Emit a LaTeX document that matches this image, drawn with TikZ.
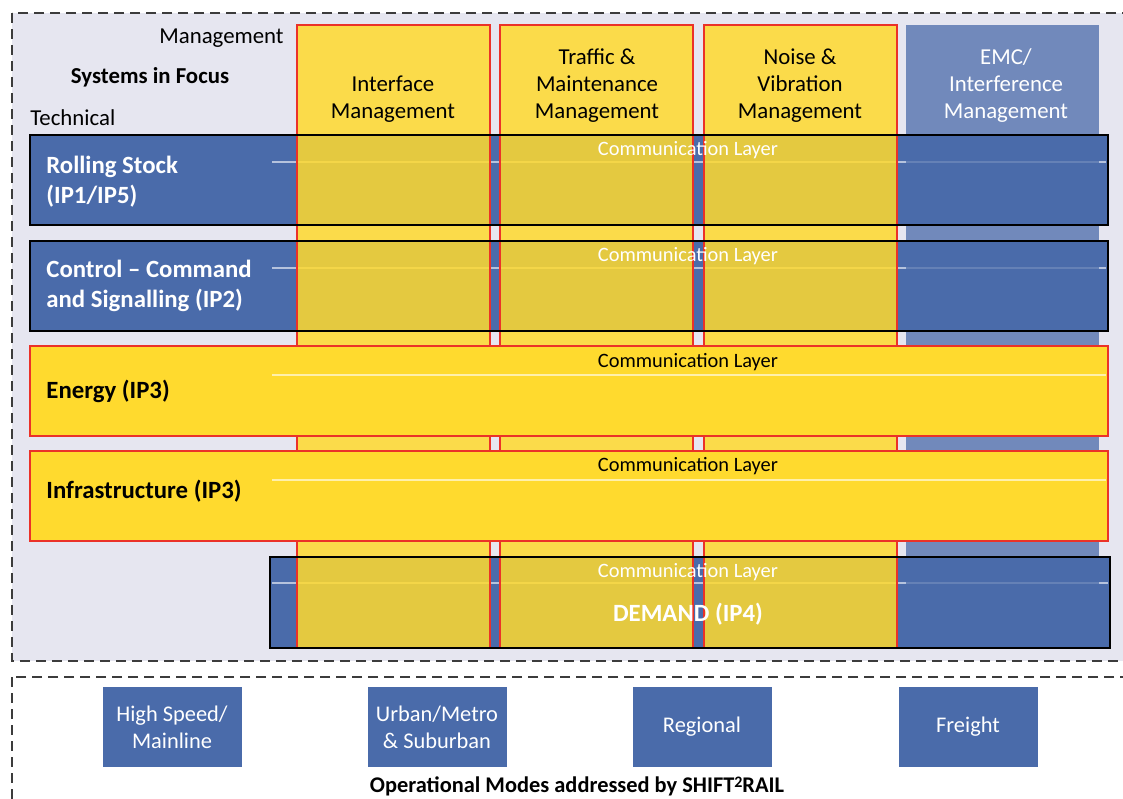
\documentclass[tikz,border=0pt]{standalone}
\usepackage{fontspec}
\setmainfont{Carlito}
\usetikzlibrary{positioning}
\definecolor{bglav}{RGB}{230,230,240}
\definecolor{colyellow}{RGB}{255,218,46}
\definecolor{rowblue}{RGB}{74,107,170}
\definecolor{edgered}{RGB}{235,50,40}
\definecolor{framegray}{RGB}{60,60,60}
\tikzstyle{frame} = [
    draw=framegray,
    line width=1pt,
    dash pattern=on 5pt off 3pt
]
\tikzstyle{col_box} = [
    draw=edgered,
    fill=colyellow,
    fill opacity=0.85,
    line width=0.8pt
]
\tikzstyle{emc_box} = [
    fill=rowblue,
    fill opacity=0.75
]
\tikzstyle{row_edge} = [
    draw=black,
    line width=0.8pt
]
\tikzstyle{yellow_row} = [
    draw=edgered,
    fill=colyellow,
    line width=0.8pt
]
\tikzstyle{comm_line} = [
    draw=white,
    draw opacity=0.6,
    line width=0.6pt
]
\tikzstyle{head_text} = [
    font=\fontsize{11.4}{13.5}\selectfont,
    align=center,
    inner sep=0pt
]
\tikzstyle{comm_text} = [
    font=\fontsize{10.2}{12}\selectfont,
    inner sep=0pt
]
\tikzstyle{row_text} = [
    font=\fontsize{12.4}{15}\selectfont\bfseries,
    align=left,
    anchor=west,
    inner sep=0pt
]
\tikzstyle{mode_box} = [
    fill=rowblue,
    text=white,
    font=\fontsize{11.2}{13.5}\selectfont,
    align=center,
    inner sep=0pt,
    minimum width=69.5pt,
    minimum height=40pt
]

\begin{document}
\begin{tikzpicture}[x=0.5pt, y=-0.5pt]
\clip (0,0) rectangle (1123,798);
% frames
\draw[frame, fill=bglav] (12,13) rectangle (1140,661);
\draw[frame, fill=white] (12,677) rectangle (1140,820);
% blue rows, under the columns
\foreach \ya in {135, 241} {
    \fill[rowblue] (30,\ya) rectangle (1108,{\ya+90});
    \draw[comm_line] (272,{\ya+27}) -- (1106,{\ya+27});
}
\fill[rowblue] (270,557) rectangle (1110,648);
\draw[comm_line] (272,583) -- (1108,583);
% management columns
\foreach \xa in {297, 500, 704} {
    \draw[col_box] (\xa,25) rectangle ++(193,623);
}
\fill[emc_box] (906,25) rectangle (1099,648);
\draw[row_edge] (30,135) rectangle (1108,225);
\draw[row_edge] (30,241) rectangle (1108,331);
\draw[row_edge] (270,557) rectangle (1110,648);
% yellow rows, above the columns
\foreach \ya in {346, 451} {
    \draw[yellow_row] (30,\ya) rectangle (1108,{\ya+90});
    \draw[comm_line] (272,{\ya+29}) -- (1106,{\ya+29});
}

% headings
\node[head_text, anchor=east] (mgmt) at (284,38) {Management};
\node[head_text, font=\fontsize{11.4}{13.5}\selectfont\bfseries] (focus) at (150,77) {Systems in Focus};
\node[head_text, anchor=west] (tech) at (30,118) {Technical};
\node[head_text] (iface) at (393,99) {Interface\\Management};
\node[head_text] (traffic) at (597,86) {Traffic \&\\Maintenance\\Management};
\node[head_text] (noise) at (800,86) {Noise \&\\Vibration\\Management};
\node[head_text, text=white] (emc) at (1006,86) {EMC/\\Interference\\Management};

% rows
\node[row_text, text=white] (rolling) at (46,182) {Rolling Stock\\(IP1/IP5)};
\node[row_text, text=white] (ccs) at (46,286) {Control -- Command\\and Signalling (IP2)};
\node[row_text] (energy) at (46,391) {Energy (IP3)};
\node[row_text] (infra) at (46,491) {Infrastructure (IP3)};
\node[row_text, anchor=center, text=white] (demand) at (688,614) {DEMAND (IP4)};
\node[comm_text, text=white] (comm1) at (688,150) {Communication Layer};
\node[comm_text, text=white] (comm2) at (688,256) {Communication Layer};
\node[comm_text] (comm3) at (688,362) {Communication Layer};
\node[comm_text] (comm4) at (688,466) {Communication Layer};
\node[comm_text, text=white] (comm5) at (688,572) {Communication Layer};

% operational modes
\node[mode_box] (highspeed) at (172,727) {High Speed/\\Mainline};
\node[mode_box] (urban) at (437,727) {Urban/Metro\\\& Suburban};
\node[mode_box] (regional) at (702,727) {Regional};
\node[mode_box] (freight) at (968,727) {Freight};
\node[head_text, font=\fontsize{11.2}{13.5}\selectfont\bfseries] (modes) at (577,786)
    {Operational Modes addressed by SHIFT\raisebox{0.4ex}{\fontsize{8}{9}\selectfont 2}RAIL};
\end{tikzpicture}
\end{document}
